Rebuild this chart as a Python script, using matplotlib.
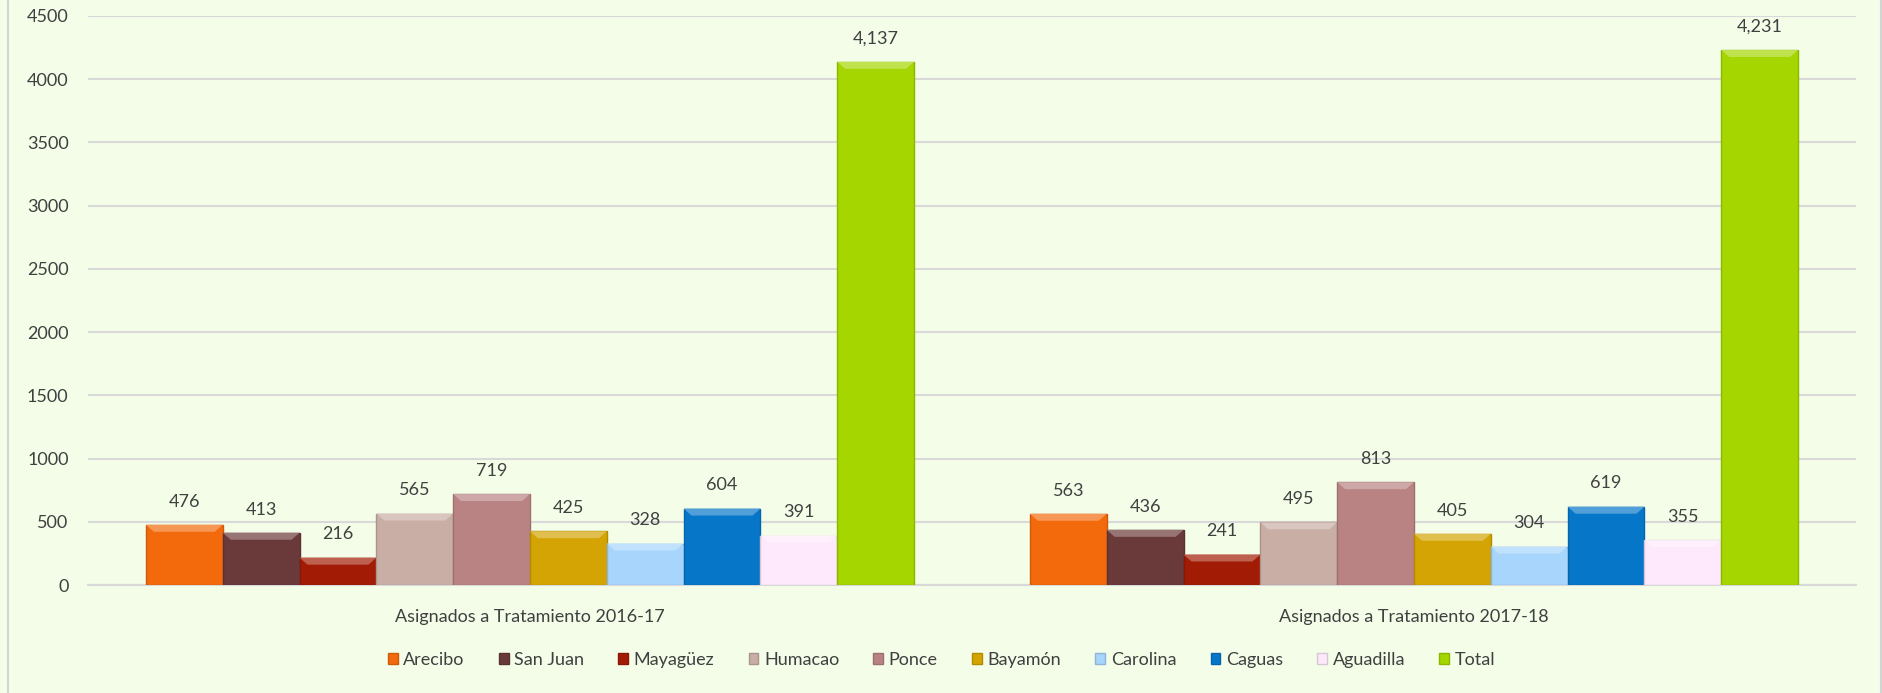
import numpy as np
import matplotlib.pyplot as plt
from matplotlib.lines import Line2D
from matplotlib.patches import Polygon
import matplotlib.colors as mcolors

plt.rcParams['font.family'] = ['Lato', 'DejaVu Sans']

# data
categories = ['Asignados a Tratamiento 2016-17', 'Asignados a Tratamiento 2017-18']
regions = ['Arecibo', 'San Juan', 'Mayagüez', 'Humacao', 'Ponce', 'Bayamón',
           'Carolina', 'Caguas', 'Aguadilla', 'Total']
values_1617 = [476, 413, 216, 565, 719, 425, 328, 604, 391, 4137]
values_1718 = [563, 436, 241, 495, 813, 405, 304, 619, 355, 4231]
colors = ['#f26a0c', '#6a3a3a', '#a21c05', '#c8aea5', '#b98383', '#d3a404',
          '#a7d5fb', '#0676c9', '#fde9fb', '#a5d600']
yticks = [0, 500, 1000, 1500, 2000, 2500, 3000, 3500, 4000, 4500]

bg = '#f3fde8'
text_col = '#404040'


def shade(c, f):
    # f > 0 lightens towards white, f < 0 darkens towards black
    rgb = np.array(mcolors.to_rgb(c))
    if f > 0:
        return tuple(rgb + (1 - rgb) * f)
    return tuple(rgb * (1 + f))


fig = plt.figure(figsize=(18.83, 6.93), dpi=100, facecolor=bg)
# thin frame lines on the left and right edge of the chart
for xf in (8 / 1883, 1881 / 1883):
    fig.add_artist(Line2D([xf, xf], [0, 1], transform=fig.transFigure,
                          color='#d4d4d4', lw=1.5))

ax = fig.add_axes([88 / 1883, 1 - 585 / 693, 1768 / 1883, 569 / 693])
ax.set_facecolor(bg)
ax.set_xlim(-0.5, 1.5)
ax.set_ylim(0, 4500)

n = len(regions)
w = 0.0869
x = np.arange(len(categories))
bev_y = 55      # bevel height in data units
bev_x = 0.009   # bevel inset in data units
for i, reg in enumerate(regions):
    vals = [values_1617[i], values_1718[i]]
    pos = x + (i - (n - 1) / 2) * w
    bars = ax.bar(pos, vals, width=w, color=colors[i], label=reg,
                  edgecolor=shade(colors[i], -0.15), linewidth=1.0, zorder=3)
    for b, v in zip(bars, vals):
        x0, x1 = b.get_x(), b.get_x() + b.get_width()
        # top bevel highlight
        ax.add_patch(Polygon([(x0, v), (x1, v), (x1 - bev_x, v - bev_y),
                              (x0 + bev_x, v - bev_y)], closed=True,
                             facecolor=shade(colors[i], 0.3), edgecolor='none', zorder=4))
        ax.annotate(f'{v:,}', ((x0 + x1) / 2, v),
                    xytext=(0, 11), textcoords='offset points',
                    ha='center', va='bottom', fontsize=13, color=text_col)

ax.set_yticks(yticks)
ax.set_xticks(x)
ax.set_xticklabels(categories, fontsize=13, color=text_col)
ax.tick_params(axis='y', labelsize=13, colors=text_col, length=0, pad=14)
ax.tick_params(axis='x', length=0, pad=17)
ax.grid(axis='y', color='#d9d9d9', lw=1.5, zorder=0)
for s in ['top', 'right', 'left']:
    ax.spines[s].set_visible(False)
ax.spines['bottom'].set_color('#d9d9d9')
ax.spines['bottom'].set_linewidth(1.5)

fig.legend(loc='center', bbox_to_anchor=(0.5, 1 - 660 / 693), ncol=n, frameon=False,
           fontsize=13, handlelength=0.55, handleheight=0.55, handletextpad=0.3,
           columnspacing=1.9, labelcolor=text_col)

fig.savefig('out.png', dpi=100, facecolor=bg)
